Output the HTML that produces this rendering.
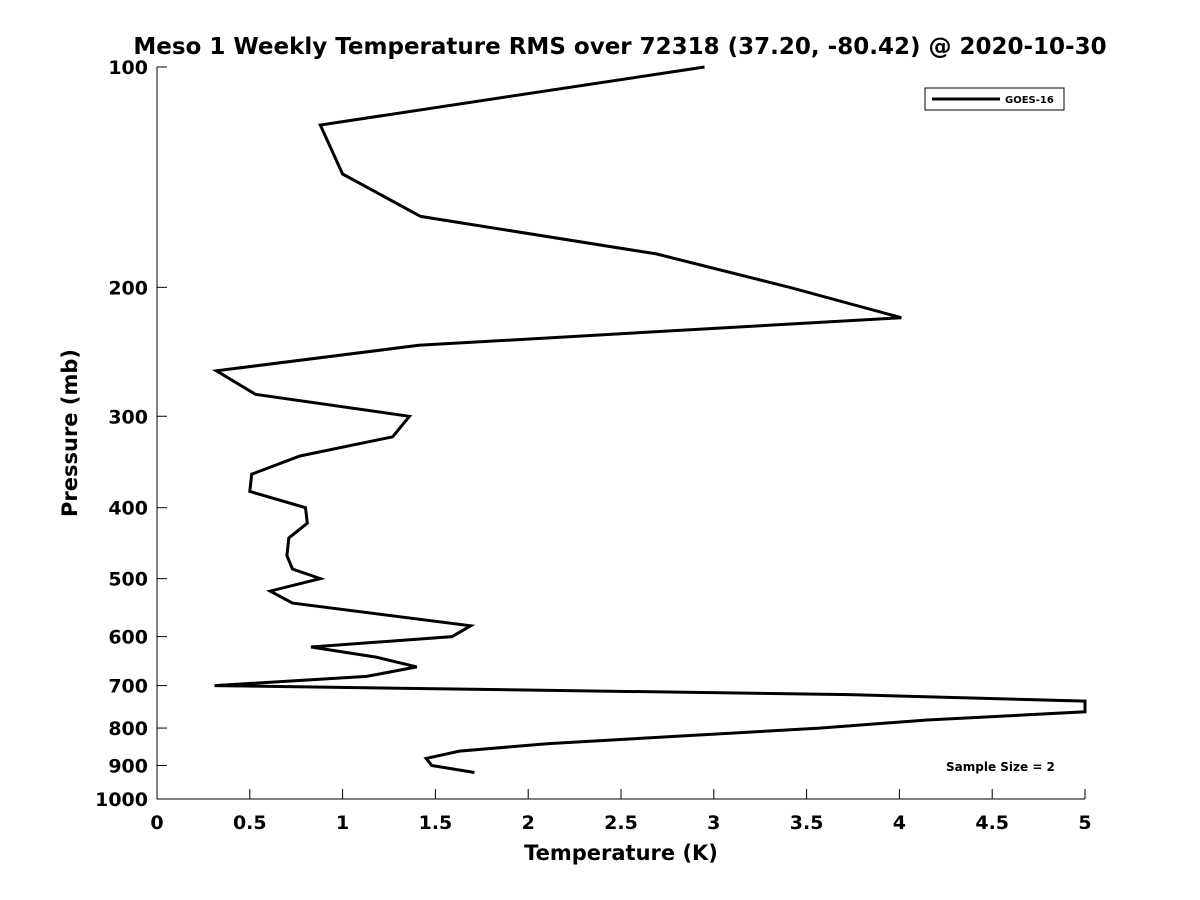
<!DOCTYPE html>
<html><head><meta charset="utf-8"><style>body{margin:0;background:#fff}svg{display:block}text{font-family:"DejaVu Sans","Liberation Sans",sans-serif;font-weight:bold;fill:#000}</style></head>
<body>
<svg id="chart" width="1200" height="900" viewBox="0 0 1200 900">
<text x="620" y="54" text-anchor="middle" font-size="23">Meso 1 Weekly Temperature RMS over 72318 (37.20, -80.42) @ 2020-10-30</text>
<g id="axes"></g>
<path id="series" fill="none" stroke="#000" stroke-width="3" stroke-linejoin="miter"/>
<text x="621" y="860" text-anchor="middle" font-size="21">Temperature (K)</text>
<text transform="translate(77,433) rotate(-90)" text-anchor="middle" font-size="21">Pressure (mb)</text>
<g>
<rect x="925" y="88" width="139" height="22" fill="#fff" stroke="#000" stroke-width="1"/>
<line x1="932" y1="99" x2="1000" y2="99" stroke="#000" stroke-width="3"/>
<text x="1005" y="103" font-size="10">GOES-16</text>
</g>
<text x="946" y="771" font-size="12">Sample Size = 2</text>
</svg>
<script>
const xTicks = [0,0.5,1,1.5,2,2.5,3,3.5,4,4.5,5];
const xTickLabels = ["0","0.5","1","1.5","2","2.5","3","3.5","4","4.5","5"];
const yTicks = [100,200,300,400,500,600,700,800,900,1000];
const yTickLabels = ["100","200","300","400","500","600","700","800","900","1000"];
const pressure = [100,120,140,160,180,200,220,240,260,280,300,320,340,360,380,400,420,440,465,485,500,520,540,580,600,620,640,660,680,700,720,735,760,780,800,840,860,880,900,920];
const rms = [2.95,0.88,1.0,1.42,2.69,3.41,4.01,1.41,0.32,0.53,1.36,1.27,0.77,0.51,0.50,0.80,0.81,0.71,0.70,0.73,0.88,0.61,0.73,1.69,1.59,0.83,1.18,1.40,1.13,0.31,3.73,5.0,5.0,4.15,3.57,2.11,1.63,1.45,1.48,1.71];
const X0=157,X1=1085,Y0=67,Y1=799;
const xs=v=>X0+(v-0)/(5-0)*(X1-X0);
const ys=p=>Y0+(Math.log10(p)-2)/(3-2)*(Y1-Y0);
const NS="http://www.w3.org/2000/svg";
const axes=document.getElementById('axes');
function mk(tag,attrs){const e=document.createElementNS(NS,tag);for(const k in attrs)e.setAttribute(k,attrs[k]);return e;}
const sp=mk('path',{d:`M${X0},${Y0}V${Y1}H${X1}`,fill:'none',stroke:'#000','stroke-width':1});


axes.appendChild(sp);
xTicks.forEach((v,i)=>{const x=xs(v);
 const t=mk('line',{x1:x,y1:Y1,x2:x,y2:Y1-10,stroke:'#000','stroke-width':1});
 
 
 axes.appendChild(t);
 const l=mk('text',{x:x,y:Y1+30,'text-anchor':'middle','font-size':19});l.textContent=xTickLabels[i];
 
 
 axes.appendChild(l);});
yTicks.forEach((v,i)=>{const y=ys(v);
 const t=mk('line',{x1:X0,y1:y,x2:X0+10,y2:y,stroke:'#000','stroke-width':1});
 
 
 axes.appendChild(t);
 const l=mk('text',{x:X0-9,y:y+7,'text-anchor':'end','font-size':19});l.textContent=yTickLabels[i];
 
 
 axes.appendChild(l);});
document.getElementById('series').setAttribute('d',pressure.map((p,i)=>(i?'L':'M')+xs(rms[i]).toFixed(1)+','+ys(p).toFixed(1)).join(''));
</script>
</body></html>
